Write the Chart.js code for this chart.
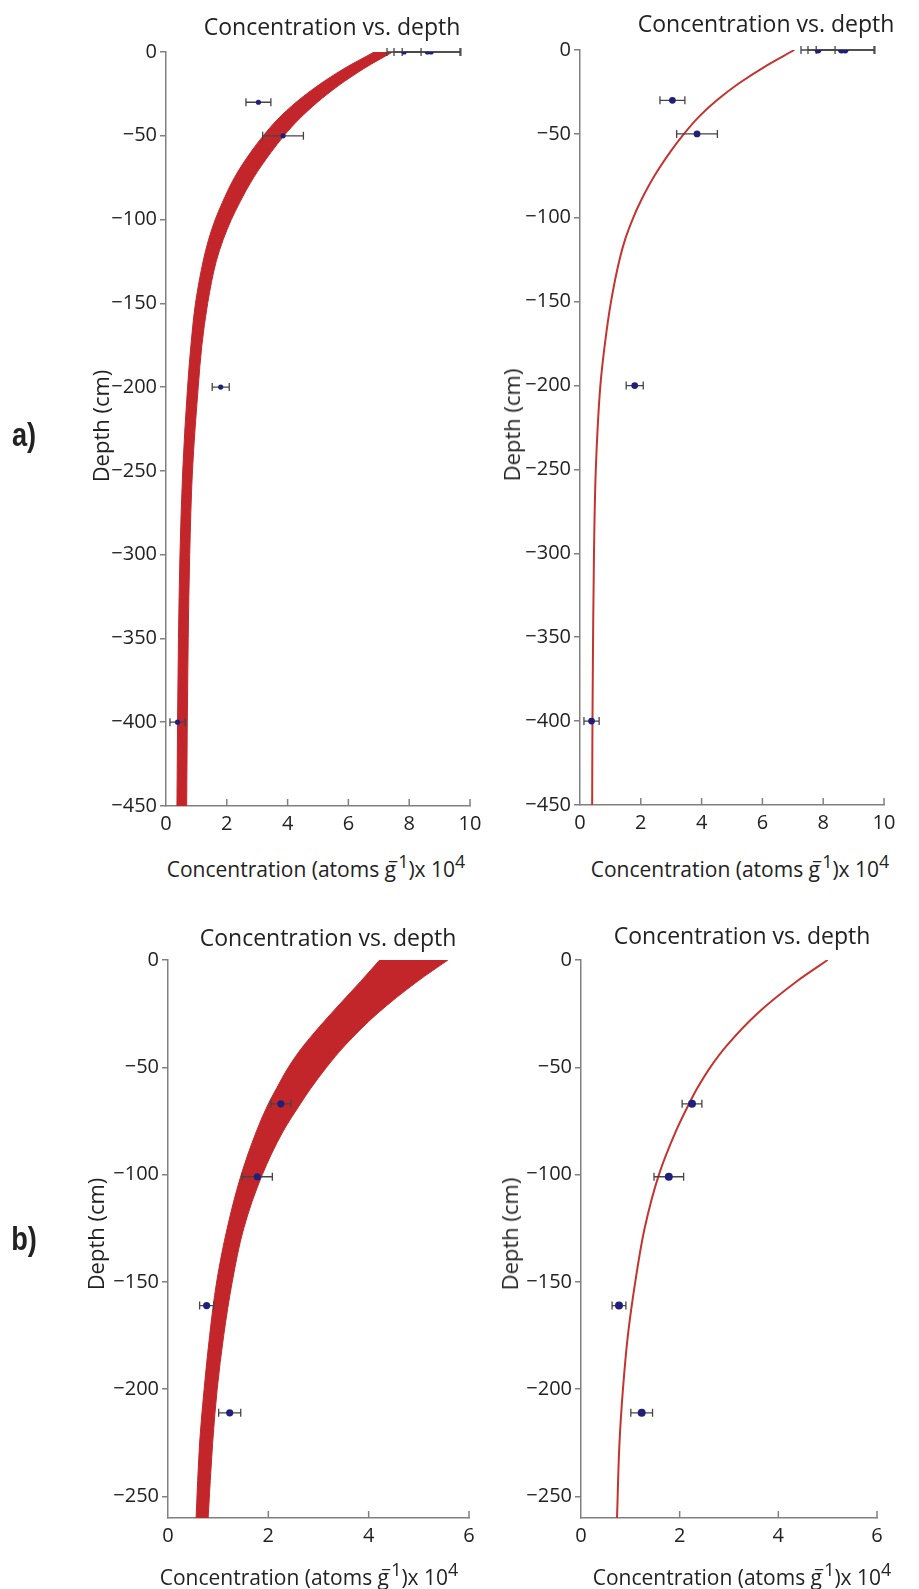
<!DOCTYPE html>
<html><head><meta charset="utf-8">
<script src="https://cdn.jsdelivr.net/npm/chart.js@4/dist/chart.umd.min.js"></script>
<style>
body{margin:0;width:919px;height:1589px;background:#fff;position:relative;overflow:hidden;font-family:"Open Sans",sans-serif;color:#222}
canvas{position:absolute}
.t{position:absolute;white-space:nowrap;transform:translate(-50%,-50%);font-size:23px;line-height:1}
.yl{position:absolute;white-space:nowrap;transform:translate(-50%,-50%) rotate(-90deg);font-size:22px;line-height:1}
.xl{position:absolute;white-space:nowrap;transform:translate(-50%,-50%);font-size:21px;line-height:1}
.xl sup{font-size:0.85em;vertical-align:0.5em;line-height:0}
.lab{position:absolute;font-family:"Liberation Sans Narrow","Liberation Sans",sans-serif;font-weight:bold;font-size:34px;transform:translate(-50%,-50%) scaleX(0.8);line-height:1}
</style></head><body>
<canvas id="tl" width="394" height="814" style="left:96px;top:32px"></canvas>
<canvas id="tr" width="394" height="815" style="left:510px;top:30px"></canvas>
<canvas id="bl" width="391" height="618" style="left:98px;top:940px"></canvas>
<canvas id="br" width="386" height="618" style="left:511px;top:940px"></canvas>

<div class="t" style="left:332px;top:26px">Concentration vs. depth</div>
<div class="t" style="left:766px;top:23px">Concentration vs. depth</div>
<div class="t" style="left:328px;top:937px">Concentration vs. depth</div>
<div class="t" style="left:742px;top:935px">Concentration vs. depth</div>

<div class="yl" style="left:100px;top:426px">Depth (cm)</div>
<div class="yl" style="left:511px;top:425px">Depth (cm)</div>
<div class="yl" style="left:95px;top:1234px">Depth (cm)</div>
<div class="yl" style="left:509px;top:1234px">Depth (cm)</div>

<div class="xl" style="left:316px;top:869px">Concentration (atoms g<sup style="margin-left:-0.45em">−1</sup>)x 10<sup>4</sup></div>
<div class="xl" style="left:740px;top:869px">Concentration (atoms g<sup style="margin-left:-0.45em">−1</sup>)x 10<sup>4</sup></div>
<div class="xl" style="left:309px;top:1577px">Concentration (atoms g<sup style="margin-left:-0.45em">−1</sup>)x 10<sup>4</sup></div>
<div class="xl" style="left:742px;top:1577px">Concentration (atoms g<sup style="margin-left:-0.45em">−1</sup>)x 10<sup>4</sup></div>

<div class="lab" style="left:24px;top:434px">a)</div>
<div class="lab" style="left:24px;top:1238px">b)</div>

<script>
// ---- data (concentration in atoms/g x 10^4, depth in cm) ----
const topDepths  = [0, -10, -20, -30, -40, -50, -60, -75, -90, -100, -112, -125, -150, -175, -200, -250, -300, -350, -400, -450];
const tlBandLow  = [6.85, 5.85, 5.0, 4.28, 3.68, 3.2, 2.78, 2.25, 1.85, 1.62, 1.4, 1.22, 0.97, 0.82, 0.71, 0.55, 0.46, 0.41, 0.38, 0.36];
const tlBandHigh = [7.45, 6.5, 5.68, 4.98, 4.38, 3.88, 3.45, 2.88, 2.42, 2.15, 1.88, 1.65, 1.37, 1.18, 1.06, 0.87, 0.78, 0.73, 0.70, 0.68];
const trBestFit  = [7.05, 6.07, 5.22, 4.5, 3.9, 3.42, 3.0, 2.45, 2.0, 1.75, 1.5, 1.3, 1.02, 0.82, 0.67, 0.52, 0.46, 0.43, 0.41, 0.40];

const botDepths  = [0, -10, -25, -40, -50, -60, -67, -80, -100, -125, -150, -175, -200, -225, -260];
const blBandLow  = [4.22, 3.84, 3.25, 2.7, 2.4, 2.16, 2.0, 1.76, 1.46, 1.18, 0.97, 0.83, 0.72, 0.63, 0.56];
const blBandHigh = [5.58, 4.97, 4.17, 3.52, 3.16, 2.84, 2.64, 2.29, 1.88, 1.51, 1.28, 1.11, 0.98, 0.89, 0.8];
const brBestFit  = [5.0, 4.37, 3.57, 2.95, 2.62, 2.35, 2.19, 1.92, 1.58, 1.29, 1.1, 0.95, 0.85, 0.78, 0.73];

const topObsDepth = [0, 0, 0, -30, -50, -200, -400];
const topObsConc  = [7.83, 8.6, 8.72, 3.04, 3.85, 1.8, 0.38];
const topObsErr   = [0.56, 1.1, 0.95, 0.41, 0.67, 0.28, 0.25];

const botObsDepth = [-67, -101, -161, -211];
const botObsConc  = [2.25, 1.78, 0.77, 1.23];
const botObsErr   = [0.2, 0.3, 0.14, 0.22];

const topYTicks = [0, -50, -100, -150, -200, -250, -300, -350, -400, -450];
const topXTicks = [0, 2, 4, 6, 8, 10];
const botYTicks = [0, -50, -100, -150, -200, -250];
const botXTicks = [0, 2, 4, 6];

// ---- helpers ----
const pts = (xs, ys) => xs.map((v, i) => ({x: v, y: ys[i]}));
const RED = '#c2262b';
const AXIS = '#808080';
const FONT = {family: '"Open Sans", sans-serif', size: 20};

const errPlugin = {
  id: 'errbars',
  beforeDatasetDraw(chart, args) {
    const ds = chart.data.datasets[args.index];
    if (!ds.errors) return;
    const {ctx, scales: {x, y}} = chart;
    ctx.save();
    ctx.strokeStyle = '#454545';
    ctx.lineWidth = 1.3;
    ds.data.forEach((p, i) => {
      const e = ds.errors[i];
      const x0 = x.getPixelForValue(p.x - e), x1 = x.getPixelForValue(p.x + e), py = y.getPixelForValue(p.y);
      ctx.beginPath();
      ctx.moveTo(x0, py); ctx.lineTo(x1, py);
      ctx.moveTo(x0, py - 4); ctx.lineTo(x0, py + 4);
      ctx.moveTo(x1, py - 4); ctx.lineTo(x1, py + 4);
      ctx.stroke();
    });
    ctx.restore();
  }
};
const inTicks = {
  id: 'inticks',
  afterDraw(chart) {
    const {ctx, scales: {x}} = chart;
    ctx.save();
    ctx.strokeStyle = AXIS; ctx.lineWidth = 1.5;
    x.ticks.forEach(t => {
      if (t.value === x.min) return;
      const px = x.getPixelForValue(t.value);
      ctx.beginPath(); ctx.moveTo(px, x.top); ctx.lineTo(px, x.top - 7); ctx.stroke();
    });
    ctx.restore();
  }
};

function makeChart(id, depths, curves, obs, xMax, yMin, yTicks, xTicks, dotR) {
  const datasets = [];
  // observations first so they are drawn on top
  datasets.push({data: pts(obs.conc, obs.depth), errors: obs.err, showLine: false, pointRadius: dotR,
    pointBackgroundColor: '#20207a', pointBorderColor: '#20207a', pointBorderWidth: 0});
  if (curves.length === 2) {
    datasets.push({data: pts(curves[0], depths), borderColor: RED, borderWidth: 1, pointRadius: 0, cubicInterpolationMode: 'monotone', fill: false});
    datasets.push({data: pts(curves[1], depths), borderColor: RED, borderWidth: 1, backgroundColor: RED, pointRadius: 0, cubicInterpolationMode: 'monotone', fill: '-1'});
  } else {
    datasets.push({data: pts(curves[0], depths), borderColor: '#c4342f', borderWidth: 2, pointRadius: 0, cubicInterpolationMode: 'monotone', fill: false});
  }
  return new Chart(document.getElementById(id), {
    type: 'line',
    data: {datasets},
    plugins: [errPlugin, inTicks],
    options: {
      indexAxis: 'y',
      responsive: false,
      animation: false,
      devicePixelRatio: 1,
      layout: {padding: {top: 20, right: 20, left: 0, bottom: 0}},
      plugins: {legend: {display: false}, tooltip: {enabled: false}, title: {display: false}},
      scales: {
        x: {
          type: 'linear', min: 0, max: xMax,
          afterBuildTicks: s => { s.ticks = xTicks.map(v => ({value: v})); },
          afterFit: s => { s.height = 40; },
          grid: {display: true, drawOnChartArea: false, drawTicks: false},
          border: {color: AXIS, width: 1.5},
          ticks: {color: '#222', font: FONT, padding: 6, maxRotation: 0}
        },
        y: {
          type: 'linear', min: yMin, max: 0,
          afterBuildTicks: s => { s.ticks = yTicks.map(v => ({value: v})); },
          afterFit: s => { s.width = 70; },
          grid: {display: true, drawOnChartArea: false, tickLength: 6, color: AXIS, lineWidth: 1.5},
          border: {color: AXIS, width: 1.5},
          ticks: {color: '#222', font: FONT, padding: 3, callback: v => String(v).replace('-', '\u2212')}
        }
      }
    }
  });
}

const topObs = {depth: topObsDepth, conc: topObsConc, err: topObsErr};
const botObs = {depth: botObsDepth, conc: botObsConc, err: botObsErr};
makeChart('tl', topDepths, [tlBandLow, tlBandHigh], topObs, 10, -450, topYTicks, topXTicks, 2.6);
makeChart('tr', topDepths, [trBestFit], topObs, 10, -450, topYTicks, topXTicks, 3.4);
makeChart('bl', botDepths, [blBandLow, blBandHigh], botObs, 6, -260, botYTicks, botXTicks, 3.6);
makeChart('br', botDepths, [brBestFit], botObs, 6, -260, botYTicks, botXTicks, 4);
</script>
</body></html>
